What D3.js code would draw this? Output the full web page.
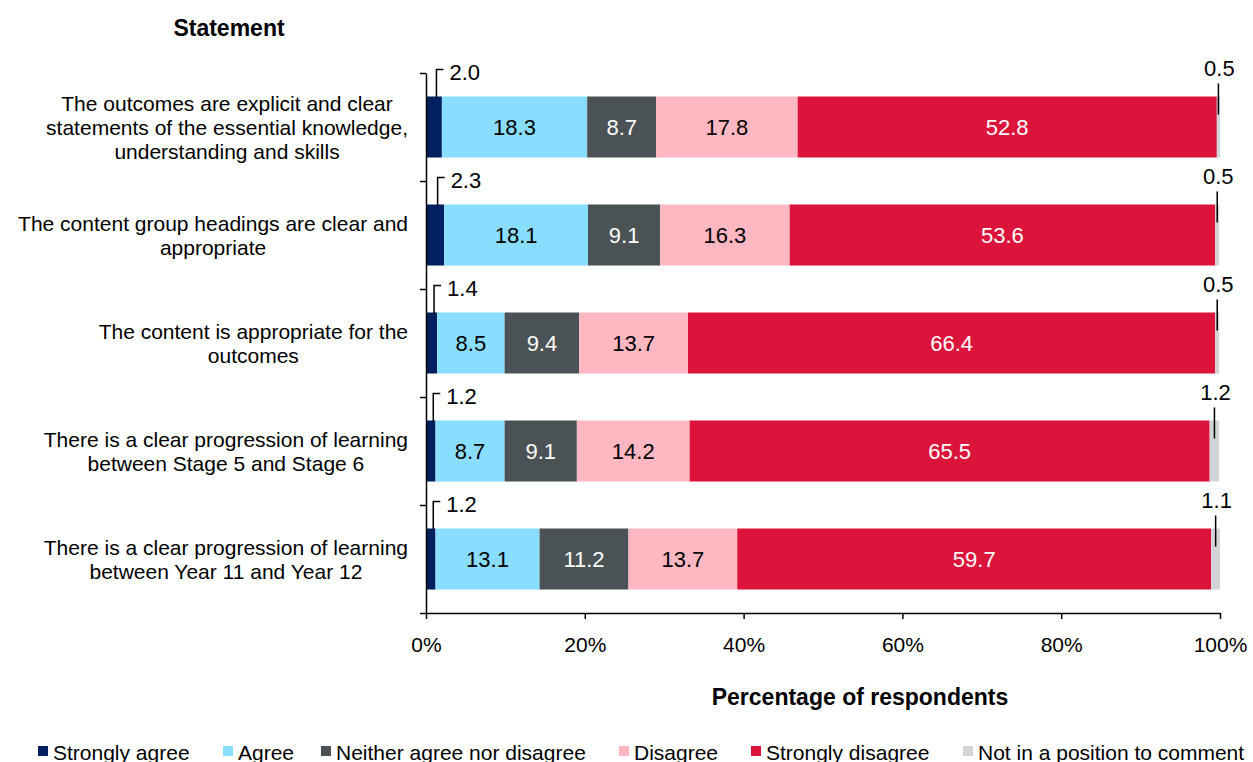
<!DOCTYPE html>
<html>
<head>
<meta charset="utf-8">
<script src="https://cdn.jsdelivr.net/npm/d3@7"></script>
<style>
  html, body { margin: 0; padding: 0; background: #fff; }
  svg { display: block; font-family: "Liberation Sans", Arial, sans-serif; }
</style>
</head>
<body>
<svg id="chart" width="1253" height="762"></svg>
<script>
// Survey statements (line breaks as set in the category labels)
const statements = [
  "The outcomes are explicit and clear\nstatements of the essential knowledge,\nunderstanding and skills",
  "The content group headings are clear and\nappropriate",
  "The content is appropriate for the\noutcomes",
  "There is a clear progression of learning\nbetween Stage 5 and Stage 6",
  "There is a clear progression of learning\nbetween Year 11 and Year 12"
];

// Response categories, in stacking order
const responses = [
  "Strongly agree",
  "Agree",
  "Neither agree nor disagree",
  "Disagree",
  "Strongly disagree",
  "Not in a position to comment"
];

// Percentage of respondents per response, one value per statement
const stronglyAgree    = [2.0, 2.3, 1.4, 1.2, 1.2];
const agree            = [18.3, 18.1, 8.5, 8.7, 13.1];
const neither          = [8.7, 9.1, 9.4, 9.1, 11.2];
const disagree         = [17.8, 16.3, 13.7, 14.2, 13.7];
const stronglyDisagree = [52.8, 53.6, 66.4, 65.5, 59.7];
const notInPosition    = [0.5, 0.5, 0.5, 1.2, 1.1];

const xTicks = [0, 20, 40, 60, 80, 100];

const colors = ["#002060", "#89DDFF", "#4B5256", "#FFB7C1", "#DC143C", "#D0D5DA"];
const textColors = ["#fff", "#000", "#fff", "#000", "#fff", "#000"];

const seriesValues = [stronglyAgree, agree, neither, disagree, stronglyDisagree, notInPosition];
const rows = statements.map((s, i) => {
  const r = { statement: s };
  responses.forEach((k, j) => { r[k] = seriesValues[j][i]; });
  return r;
});

const svg = d3.select("#chart");
const fontSize = 21;
const valueSize = 22;

const x = d3.scaleLinear().domain([0, 100]).range([426, 1220]).clamp(true);
const y = d3.scaleBand().domain(statements).range([73, 613])
  .paddingInner(0.435).paddingOuter(0.2175);

const stack = d3.stack().keys(responses);
const layers = stack(rows);

// Bars
const g = svg.append("g");
layers.forEach((layer, li) => {
  g.selectAll(null)
    .data(layer)
    .join("rect")
    .attr("x", d => x(d[0]))
    .attr("y", d => y(d.data.statement))
    .attr("width", d => Math.max(0, x(d[1]) - x(d[0])))
    .attr("height", y.bandwidth())
    .attr("fill", colors[li]);
});

// Labels inside the middle segments
layers.forEach((layer, li) => {
  if (li === 0 || li === responses.length - 1) return;
  g.selectAll(null)
    .data(layer)
    .join("text")
    .attr("x", d => (x(d[0]) + x(d[1])) / 2)
    .attr("y", d => y(d.data.statement) + y.bandwidth() / 2)
    .attr("dy", "0.36em")
    .attr("text-anchor", "middle")
    .attr("font-size", valueSize)
    .attr("fill", textColors[li])
    .text(d => (d[1] - d[0]).toFixed(1));
});

// Leader-line labels for the thin first segment
layers[0].forEach(d => {
  const top = y(d.data.statement);
  const lx = (x(d[0]) + x(d[1])) / 2 + 2.5;
  svg.append("path")
    .attr("d", `M${lx},${top + 1}V${top - 27}H${lx + 7}`)
    .attr("fill", "none").attr("stroke", "#000").attr("stroke-width", 1.5);
  svg.append("text")
    .attr("x", lx + 13).attr("y", top - 16)
    .attr("font-size", valueSize)
    .text((d[1] - d[0]).toFixed(1));
});

// Leader-line labels for the thin last segment
const lastLayer = layers[layers.length - 1];
lastLayer.forEach((d, i) => {
  const top = y(d.data.statement);
  const lx = (x(d[0]) + x(d[1])) / 2;
  svg.append("line")
    .attr("x1", lx).attr("x2", lx)
    .attr("y1", top - 13).attr("y2", top + 18)
    .attr("stroke", "#000").attr("stroke-width", 1.5);
  svg.append("text")
    .attr("x", lx + 1).attr("y", top - 20)
    .attr("text-anchor", "middle")
    .attr("font-size", valueSize)
    .text(notInPosition[i].toFixed(1));
});

// Category axis: a line with ticks at band boundaries
const yEdges = d3.scaleLinear().domain([0, statements.length]).range([73, 613]);
svg.append("g")
  .attr("transform", "translate(426,0)")
  .call(d3.axisLeft(yEdges).tickValues(d3.range(statements.length + 1)).tickSize(6).tickSizeOuter(0).tickFormat(""))
  .call(a => a.selectAll("path, line").attr("stroke", "#000").attr("stroke-width", 1.5));

// Category labels: each block is right-aligned to the axis, lines centred within it
const labelRight = 408;
statements.forEach(s => {
  const lines = s.split("\n");
  const cy = y(s) + y.bandwidth() / 2;
  const lh = 24;
  const t = svg.append("text")
    .attr("text-anchor", "middle")
    .attr("font-size", fontSize);
  const spans = lines.map((ln, k) => t.append("tspan")
    .attr("y", cy + (k - (lines.length - 1) / 2) * lh)
    .attr("dy", "0.36em")
    .text(ln));
  const w = d3.max(spans, sp => sp.node().getComputedTextLength());
  spans.forEach(sp => sp.attr("x", labelRight - w / 2));
});

// Percentage axis
const xAxis = svg.append("g")
  .attr("transform", "translate(0,613)")
  .call(d3.axisBottom(x).tickValues(xTicks).tickFormat(d => d + "%").tickSize(6).tickSizeOuter(0).tickPadding(18));
xAxis.selectAll("path, line").attr("stroke", "#000").attr("stroke-width", 1.5);
xAxis.selectAll("text").attr("font-size", fontSize).attr("fill", "#000")
  .attr("font-family", "Liberation Sans, Arial, sans-serif");

// Axis titles
svg.append("text")
  .attr("x", 229).attr("y", 36)
  .attr("text-anchor", "middle")
  .attr("font-size", 23).attr("font-weight", "bold")
  .text("Statement");

svg.append("text")
  .attr("x", 860).attr("y", 705)
  .attr("text-anchor", "middle")
  .attr("font-size", 23).attr("font-weight", "bold")
  .text("Percentage of respondents");

// Legend
const legendX = [38, 223, 321, 619, 751, 963];
const legend = svg.append("g");
responses.forEach((name, i) => {
  legend.append("rect")
    .attr("x", legendX[i]).attr("y", 746)
    .attr("width", 10).attr("height", 10)
    .attr("fill", colors[i]);
  legend.append("text")
    .attr("x", legendX[i] + 15).attr("y", 760)
    .attr("font-size", fontSize)
    .text(name);
});
</script>
</body>
</html>
